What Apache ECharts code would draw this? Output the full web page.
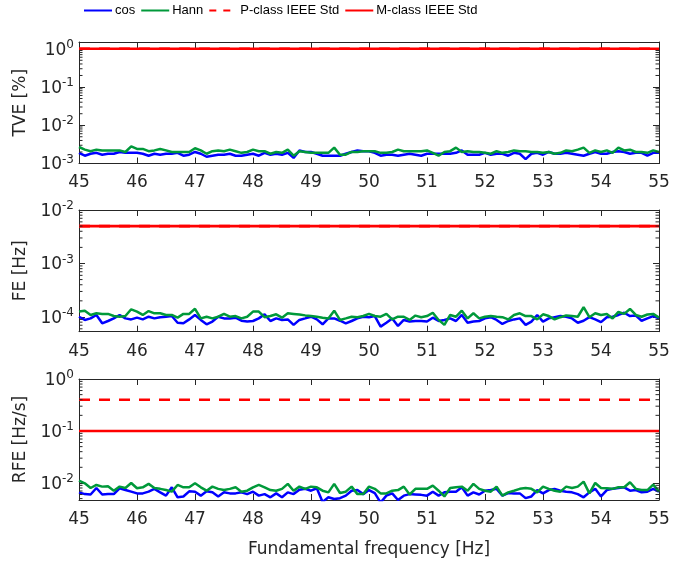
<!DOCTYPE html>
<html><head><meta charset="utf-8">
<script src="https://cdn.jsdelivr.net/npm/echarts@6/dist/echarts.min.js"></script>
<style>html,body{margin:0;padding:0;background:#fff}#c{width:691px;height:563px}</style>
</head><body><div id="c"></div>
<script>
// frequency grid 45..55 Hz, step 0.1 Hz
const freq = [];
for (let i = 0; i <= 100; i++) freq.push(Math.round(450 + i) / 10);

const xMin = 45, xMax = 55;

// TVE [%]
const tveCos = [
1.9e-3,1.6e-3,1.8e-3,1.9e-3,1.7e-3,1.8e-3,1.8e-3,2.0e-3,1.9e-3,1.9e-3,
1.9e-3,1.8e-3,1.6e-3,1.8e-3,1.7e-3,1.8e-3,1.8e-3,1.9e-3,1.6e-3,1.7e-3,
2.0e-3,1.8e-3,1.5e-3,1.6e-3,1.7e-3,1.7e-3,1.8e-3,1.6e-3,1.6e-3,1.7e-3,
1.8e-3,1.6e-3,1.9e-3,1.7e-3,1.8e-3,1.7e-3,1.9e-3,1.4e-3,2.2e-3,2.0e-3,
2.0e-3,1.8e-3,1.6e-3,1.6e-3,1.6e-3,1.6e-3,1.8e-3,2.0e-3,2.2e-3,2.1e-3,
2.1e-3,1.9e-3,1.6e-3,1.7e-3,1.7e-3,1.6e-3,1.7e-3,1.8e-3,1.7e-3,1.6e-3,
1.8e-3,1.8e-3,1.8e-3,1.8e-3,1.8e-3,1.9e-3,2.2e-3,1.7e-3,1.7e-3,1.7e-3,
1.9e-3,1.7e-3,1.8e-3,1.8e-3,1.6e-3,1.9e-3,1.8e-3,1.3e-3,1.8e-3,1.9e-3,
1.7e-3,2.0e-3,1.8e-3,1.8e-3,1.9e-3,1.8e-3,1.7e-3,1.6e-3,1.8e-3,2.0e-3,
1.8e-3,1.8e-3,2.0e-3,2.1e-3,2.0e-3,1.8e-3,1.9e-3,1.9e-3,1.6e-3,1.9e-3,
1.9e-3];
const tveHann = [
2.7e-3,2.3e-3,2.1e-3,2.3e-3,2.2e-3,2.2e-3,2.2e-3,2.2e-3,2.0e-3,2.8e-3,
2.4e-3,2.4e-3,2.1e-3,2.2e-3,2.4e-3,2.2e-3,2.0e-3,2.0e-3,2.0e-3,2.0e-3,
2.5e-3,2.2e-3,1.8e-3,2.1e-3,2.2e-3,2.1e-3,2.3e-3,2.1e-3,1.9e-3,2.0e-3,
2.3e-3,2.1e-3,2.1e-3,1.8e-3,2.0e-3,1.9e-3,2.3e-3,1.6e-3,2.1e-3,2.0e-3,
1.9e-3,1.9e-3,1.9e-3,1.9e-3,2.6e-3,1.7e-3,1.7e-3,2.0e-3,2.0e-3,2.1e-3,
2.1e-3,2.1e-3,1.9e-3,1.9e-3,2.0e-3,2.3e-3,2.1e-3,2.1e-3,2.1e-3,2.1e-3,
2.2e-3,1.9e-3,1.6e-3,2.0e-3,2.1e-3,2.6e-3,2.0e-3,2.1e-3,2.0e-3,2.0e-3,
1.9e-3,1.8e-3,2.1e-3,1.9e-3,2.0e-3,2.2e-3,2.1e-3,2.1e-3,2.0e-3,2.0e-3,
1.9e-3,2.0e-3,1.8e-3,1.9e-3,2.2e-3,2.1e-3,2.3e-3,2.6e-3,1.9e-3,2.2e-3,
2.0e-3,2.2e-3,1.9e-3,2.6e-3,2.2e-3,2.3e-3,2.0e-3,2.0e-3,1.9e-3,2.2e-3,
2.0e-3];

// FE [Hz]
const feCos = [
1.01e-4,0.88e-4,0.94e-4,1.09e-4,0.76e-4,0.84e-4,0.94e-4,1.09e-4,0.94e-4,0.90e-4,
0.97e-4,0.90e-4,1.01e-4,0.94e-4,0.99e-4,1.01e-4,1.04e-4,0.78e-4,0.76e-4,0.90e-4,
1.09e-4,0.88e-4,0.73e-4,0.82e-4,1.01e-4,0.94e-4,0.94e-4,0.97e-4,0.85e-4,0.82e-4,
0.84e-4,0.94e-4,1.12e-4,0.84e-4,0.94e-4,0.88e-4,0.90e-4,0.71e-4,0.88e-4,0.94e-4,
1.01e-4,0.90e-4,0.73e-4,0.94e-4,0.94e-4,0.85e-4,0.76e-4,0.84e-4,0.94e-4,1.01e-4,
0.99e-4,1.04e-4,0.66e-4,0.78e-4,0.94e-4,0.68e-4,0.88e-4,0.82e-4,0.84e-4,0.84e-4,
0.82e-4,0.97e-4,0.84e-4,0.88e-4,0.94e-4,0.84e-4,1.09e-4,0.78e-4,0.82e-4,0.84e-4,
0.94e-4,0.99e-4,0.88e-4,0.74e-4,0.84e-4,0.90e-4,0.94e-4,0.71e-4,0.82e-4,1.09e-4,
0.82e-4,0.94e-4,0.99e-4,1.04e-4,1.01e-4,0.94e-4,0.78e-4,0.85e-4,0.99e-4,0.90e-4,
0.80e-4,0.99e-4,1.01e-4,1.09e-4,1.20e-4,1.04e-4,1.06e-4,0.85e-4,0.94e-4,1.04e-4,
0.94e-4];
const feHann = [
1.26e-4,1.31e-4,1.09e-4,1.17e-4,1.14e-4,1.14e-4,1.04e-4,1.01e-4,1.04e-4,1.39e-4,
1.26e-4,1.09e-4,1.29e-4,1.17e-4,1.17e-4,1.09e-4,1.09e-4,0.97e-4,1.14e-4,1.14e-4,
1.42e-4,0.94e-4,1.01e-4,0.94e-4,1.01e-4,1.14e-4,1.01e-4,1.04e-4,0.94e-4,1.01e-4,
1.26e-4,1.26e-4,0.99e-4,1.04e-4,1.12e-4,0.97e-4,1.17e-4,1.14e-4,1.11e-4,1.07e-4,
1.04e-4,1.01e-4,0.97e-4,0.94e-4,1.31e-4,0.88e-4,0.94e-4,1.01e-4,0.99e-4,1.04e-4,
1.14e-4,1.04e-4,1.01e-4,1.14e-4,0.90e-4,1.01e-4,1.01e-4,0.88e-4,1.06e-4,0.99e-4,
1.04e-4,1.20e-4,0.88e-4,0.71e-4,1.09e-4,1.01e-4,1.31e-4,0.94e-4,1.17e-4,0.94e-4,
1.01e-4,1.04e-4,1.01e-4,0.99e-4,0.90e-4,1.09e-4,1.17e-4,1.04e-4,1.04e-4,0.90e-4,
1.12e-4,1.04e-4,0.90e-4,0.99e-4,1.07e-4,1.04e-4,1.01e-4,1.52e-4,0.99e-4,1.17e-4,
1.09e-4,1.14e-4,0.94e-4,1.24e-4,1.14e-4,1.41e-4,1.09e-4,1.01e-4,1.11e-4,1.14e-4,
0.97e-4];

// RFE [Hz/s]
const rfeCos = [
0.66e-2,0.61e-2,0.60e-2,0.80e-2,0.60e-2,0.61e-2,0.61e-2,0.79e-2,0.73e-2,0.68e-2,
0.63e-2,0.63e-2,0.68e-2,0.77e-2,0.66e-2,0.57e-2,0.825e-2,0.53e-2,0.55e-2,0.69e-2,
0.68e-2,0.57e-2,0.69e-2,0.66e-2,0.55e-2,0.66e-2,0.63e-2,0.63e-2,0.66e-2,0.61e-2,
0.68e-2,0.57e-2,0.61e-2,0.53e-2,0.63e-2,0.53e-2,0.66e-2,0.61e-2,0.74e-2,0.77e-2,
0.71e-2,0.79e-2,0.43e-2,0.53e-2,0.49e-2,0.51e-2,0.57e-2,0.71e-2,0.73e-2,0.61e-2,
0.73e-2,0.64e-2,0.42e-2,0.57e-2,0.63e-2,0.47e-2,0.57e-2,0.61e-2,0.60e-2,0.59e-2,
0.57e-2,0.68e-2,0.57e-2,0.66e-2,0.68e-2,0.68e-2,0.825e-2,0.57e-2,0.66e-2,0.60e-2,
0.71e-2,0.73e-2,0.77e-2,0.57e-2,0.64e-2,0.63e-2,0.63e-2,0.51e-2,0.55e-2,0.73e-2,
0.63e-2,0.73e-2,0.77e-2,0.71e-2,0.68e-2,0.66e-2,0.61e-2,0.53e-2,0.66e-2,0.77e-2,
0.55e-2,0.73e-2,0.77e-2,0.80e-2,0.825e-2,0.71e-2,0.73e-2,0.66e-2,0.68e-2,0.77e-2,
0.68e-2];
const rfeHann = [
1.11e-2,0.985e-2,0.80e-2,0.915e-2,0.85e-2,0.86e-2,0.71e-2,0.85e-2,0.80e-2,1.00e-2,
0.79e-2,0.825e-2,0.96e-2,0.80e-2,0.77e-2,0.73e-2,0.68e-2,0.915e-2,0.825e-2,0.825e-2,
0.985e-2,0.825e-2,0.71e-2,0.85e-2,0.77e-2,0.73e-2,0.77e-2,0.825e-2,0.68e-2,0.71e-2,
0.825e-2,0.915e-2,0.825e-2,0.73e-2,0.71e-2,0.77e-2,0.96e-2,0.71e-2,0.85e-2,0.77e-2,
0.85e-2,0.825e-2,0.71e-2,0.66e-2,0.96e-2,0.64e-2,0.68e-2,0.85e-2,0.61e-2,0.61e-2,
0.85e-2,0.77e-2,0.63e-2,0.63e-2,0.71e-2,0.73e-2,0.85e-2,0.60e-2,0.77e-2,0.77e-2,
0.77e-2,0.89e-2,0.71e-2,0.55e-2,0.80e-2,0.825e-2,0.85e-2,0.71e-2,0.96e-2,0.77e-2,
0.71e-2,0.68e-2,0.85e-2,0.57e-2,0.66e-2,0.71e-2,0.77e-2,0.80e-2,0.77e-2,0.66e-2,
0.85e-2,0.77e-2,0.71e-2,0.68e-2,0.85e-2,0.80e-2,0.85e-2,1.06e-2,0.63e-2,1.00e-2,
0.80e-2,0.79e-2,0.77e-2,0.825e-2,0.825e-2,1.03e-2,0.77e-2,0.73e-2,0.73e-2,0.93e-2,
0.68e-2];

// IEEE Std limits per panel (TVE, FE, RFE)
const pLimit = [1, 0.005, 0.4];
const mLimit = [1, 0.005, 0.1];

const panelCos = [tveCos, feCos, rfeCos];
const panelHann = [tveHann, feHann, rfeHann];
const yNames = ['TVE [%]', 'FE [Hz]', 'RFE [Hz/s]'];
const yMin = [0.001, 0.000053, 0.0047];
const yMax = [1.5, 0.01, 1];
const xName = 'Fundamental frequency [Hz]';

const FONT = 'DejaVu Sans';
const AX = '#262626';
const BLUE = '#0000ff', GREEN = '#00993a', RED = '#ff0000';
const gridTops = [42, 210, 379];
const gridHeights = [121.5, 121.7, 121];

function minorValues(lo, hi) {
  const out = [];
  for (let e = Math.floor(Math.log10(lo)); e <= Math.ceil(Math.log10(hi)); e++) {
    for (let m = 2; m <= 9; m++) {
      const v = m * Math.pow(10, e);
      if (v > lo && v < hi) out.push(v);
    }
  }
  return out;
}
function expLabel(v) {
  const e = Math.log10(v);
  if (Math.abs(e - Math.round(e)) > 1e-6) return '';
  return '{b|10}{s|' + Math.round(e) + '}';
}

const grids = [], xAxes = [], yAxes = [], series = [];
for (let g = 0; g < 3; g++) {
  grids.push({ left: 79, width: 580, top: gridTops[g], height: gridHeights[g], show: false, outerBoundsMode: 'none' });
  const xBase = {
    type: 'value', gridIndex: g, min: xMin, max: xMax, interval: 1,
    axisLine: { show: true, onZero: false, lineStyle: { color: AX, width: 1 } },
    axisTick: { show: true, inside: true, length: 6, lineStyle: { color: AX } },
    splitLine: { show: false }
  };
  xAxes.push(Object.assign({}, xBase, {
    position: 'bottom',
    axisLabel: { show: true, margin: 11, fontFamily: FONT, fontSize: 17, color: AX },
    name: g === 2 ? xName : '', nameLocation: 'middle', nameGap: 41,
    nameTextStyle: { fontFamily: FONT, fontSize: 17, color: AX }
  }));
  xAxes.push(Object.assign({}, xBase, { position: 'top', axisLabel: { show: false } }));
  const yBase = {
    type: 'log', logBase: 10, gridIndex: g, min: yMin[g], max: yMax[g],
    axisLine: { show: true, onZero: false, lineStyle: { color: AX, width: 1 } },
    axisTick: { show: true, inside: true, length: 6, lineStyle: { color: AX } },
    splitLine: { show: false }, minorTick: { show: false }
  };
  yAxes.push(Object.assign({}, yBase, {
    position: 'left',
    axisLabel: {
      show: true, margin: 5, formatter: expLabel, color: AX,
      rich: {
        b: { fontFamily: FONT, fontSize: 17, color: AX, lineHeight: 20, verticalAlign: 'bottom' },
        s: { fontFamily: FONT, fontSize: 12, color: AX, lineHeight: 10, verticalAlign: 'top' }
      }
    },
    name: yNames[g], nameLocation: 'middle', nameGap: 45,
    nameTextStyle: { fontFamily: FONT, fontSize: 17, color: AX }
  }));
  yAxes.push(Object.assign({}, yBase, { position: 'right', axisLabel: { show: false } }));

  const xi = 2 * g, yi = 2 * g;
  series.push({
    name: 'cos', type: 'line', xAxisIndex: xi, yAxisIndex: yi,
    data: freq.map((f, i) => [f, panelCos[g][i]]),
    symbol: 'none', showSymbol: false, clip: true, z: 2,
    lineStyle: { color: BLUE, width: 2.5 }, itemStyle: { color: BLUE }
  });
  series.push({
    name: 'Hann', type: 'line', xAxisIndex: xi, yAxisIndex: yi,
    data: freq.map((f, i) => [f, panelHann[g][i]]),
    symbol: 'none', showSymbol: false, clip: true, z: 3,
    lineStyle: { color: GREEN, width: 2.5 }, itemStyle: { color: GREEN }
  });
  series.push({
    name: 'P-class IEEE Std', type: 'line', xAxisIndex: xi, yAxisIndex: yi,
    data: [[freq[0], pLimit[g]], [freq[freq.length - 1], pLimit[g]]],
    symbol: 'none', showSymbol: false, clip: true, z: 4,
    lineStyle: { color: RED, width: 2.6, type: [11, 9] }, itemStyle: { color: RED }
  });
  series.push({
    name: 'M-class IEEE Std', type: 'line', xAxisIndex: xi, yAxisIndex: yi,
    data: [[freq[0], mLimit[g]], [freq[freq.length - 1], mLimit[g]]],
    symbol: 'none', showSymbol: false, clip: true, z: 5,
    lineStyle: { color: RED, width: 2.6 }, itemStyle: { color: RED }
  });
  // log minor ticks (2..9 per decade) on left and right edges
  series.push({
    name: 'minor', type: 'custom', xAxisIndex: xi, yAxisIndex: yi, silent: true, z: 6,
    data: minorValues(yMin[g], yMax[g]).map(v => [xMin, v]),
    renderItem: function (params, api) {
      const p = api.coord([xMin, api.value(1)]);
      const q = api.coord([xMax, api.value(1)]);
      const st = { stroke: AX, lineWidth: 1 };
      return { type: 'group', children: [
        { type: 'line', shape: { x1: p[0], y1: p[1], x2: p[0] + 3.5, y2: p[1] }, style: st },
        { type: 'line', shape: { x1: q[0] - 3.5, y1: q[1], x2: q[0], y2: q[1] }, style: st }
      ] };
    }
  });
}

const chart = echarts.init(document.getElementById('c'), null, { renderer: 'canvas' });
chart.setOption({
  animation: false,
  backgroundColor: '#ffffff',
  legend: {
    top: 4, left: 83, padding: 0, itemWidth: 28, itemHeight: 14, itemGap: 5,
    itemStyle: { opacity: 0 },
    textStyle: { fontFamily: 'Liberation Sans', fontSize: 13, color: '#000', padding: [0, 0, 0, -2] },
    data: [
      { name: 'cos' }, { name: 'Hann' },
      { name: 'P-class IEEE Std', lineStyle: { type: [7, 7] } },
      { name: 'M-class IEEE Std' }
    ]
  },
  grid: grids, xAxis: xAxes, yAxis: yAxes, series: series
});
</script>
</body></html>
